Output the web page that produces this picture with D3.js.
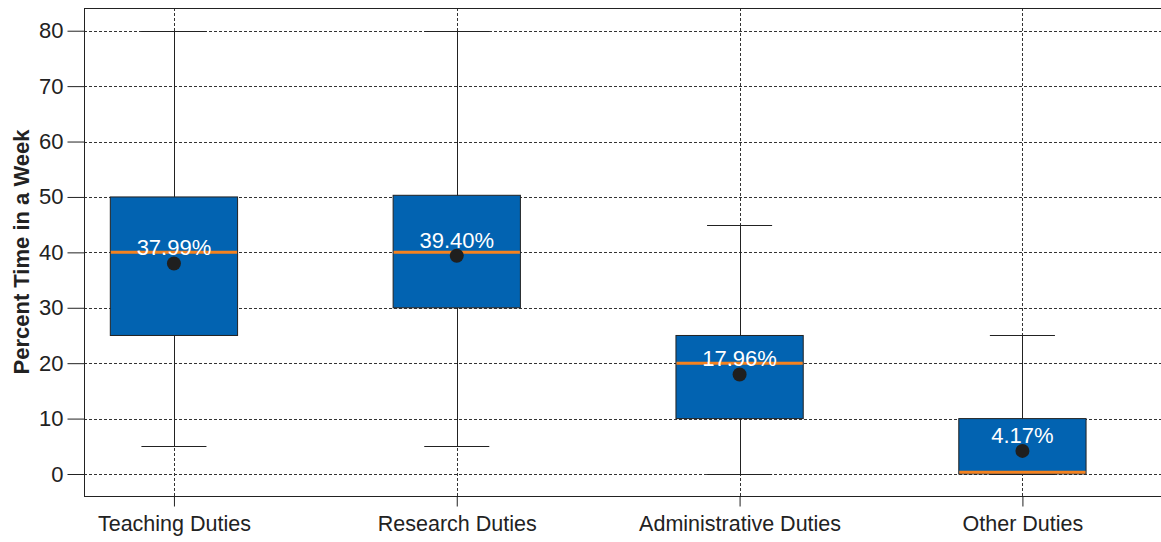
<!DOCTYPE html>
<html>
<head>
<meta charset="utf-8">
<script src="https://cdn.jsdelivr.net/npm/d3@7"></script>
<style>
  html, body { margin: 0; padding: 0; background: #fff; }
  svg { display: block; font-family: "Liberation Sans", Arial, sans-serif; }
</style>
</head>
<body>
<svg id="chart" width="1161" height="542"></svg>
<script>
// Weekly time allocation by duty type
const categories = ["Teaching Duties", "Research Duties", "Administrative Duties", "Other Duties"];
const whiskerLow  = [5, 5, 0, 0];
const q1          = [25, 30, 10, 0];
const medians     = [40, 40, 20, 0.3];
const q3          = [50, 50.3, 25, 10];
const whiskerHigh = [80, 80, 45, 25];
const means       = [37.99, 39.40, 17.96, 4.17];
const yTicks      = [0, 10, 20, 30, 40, 50, 60, 70, 80];

const svg = d3.select("#chart");
const plotLeft = 84, plotTop = 8, plotBottom = 496, plotRight = 1161;

const x = d3.scaleLinear().domain([0.682, 4.49]).range([plotLeft, plotRight]);
const y = d3.scaleLinear().domain([-3.97, 84.1]).range([plotBottom, plotTop]);

const boxHalf = 0.225, capHalf = 0.115;
const ink = "#222";
const fontSize = 22;

// grid
const grid = svg.append("g");
grid.selectAll("line.h").data(yTicks).join("line")
  .attr("x1", plotLeft).attr("x2", plotRight)
  .attr("y1", d => Math.round(y(d)) + 0.5).attr("y2", d => Math.round(y(d)) + 0.5)
  .attr("stroke", "#333").attr("stroke-dasharray", "3,2");
grid.selectAll("line.v").data(categories).join("line")
  .attr("x1", (d, i) => Math.round(x(i + 1)) + 0.5).attr("x2", (d, i) => Math.round(x(i + 1)) + 0.5)
  .attr("y1", plotTop).attr("y2", plotBottom)
  .attr("stroke", "#333").attr("stroke-dasharray", "3,2");

const data = categories.map((c, i) => ({
  c, i, lo: whiskerLow[i], q1: q1[i], med: medians[i], q3: q3[i], hi: whiskerHigh[i], mean: means[i]
}));

const g = svg.append("g");
const boxes = g.selectAll("g.box").data(data).join("g");

// whiskers
boxes.append("line")
  .attr("x1", d => Math.round(x(d.i + 1)) + 0.5).attr("x2", d => Math.round(x(d.i + 1)) + 0.5)
  .attr("y1", d => y(d.q3)).attr("y2", d => y(d.hi))
  .attr("stroke", ink).attr("stroke-width", 1);
boxes.append("line")
  .attr("x1", d => Math.round(x(d.i + 1)) + 0.5).attr("x2", d => Math.round(x(d.i + 1)) + 0.5)
  .attr("y1", d => y(d.q1)).attr("y2", d => y(d.lo))
  .attr("stroke", ink).attr("stroke-width", 1);
// caps
boxes.append("line")
  .attr("x1", d => x(d.i + 1 - capHalf)).attr("x2", d => x(d.i + 1 + capHalf))
  .attr("y1", d => Math.round(y(d.hi)) + 0.5).attr("y2", d => Math.round(y(d.hi)) + 0.5)
  .attr("stroke", ink);
boxes.append("line")
  .attr("x1", d => x(d.i + 1 - capHalf)).attr("x2", d => x(d.i + 1 + capHalf))
  .attr("y1", d => Math.round(y(d.lo)) + 0.5).attr("y2", d => Math.round(y(d.lo)) + 0.5)
  .attr("stroke", ink);

// boxes
boxes.append("rect")
  .attr("x", d => x(d.i + 1 - boxHalf))
  .attr("width", d => x(d.i + 1 + boxHalf) - x(d.i + 1 - boxHalf))
  .attr("y", d => y(d.q3))
  .attr("height", d => y(d.q1) - y(d.q3))
  .attr("fill", "#0263b1").attr("stroke", ink).attr("stroke-width", 1);

// medians
boxes.append("line")
  .attr("x1", d => x(d.i + 1 - boxHalf) + 0.5).attr("x2", d => x(d.i + 1 + boxHalf) - 0.5)
  .attr("y1", d => y(d.med)).attr("y2", d => y(d.med))
  .attr("stroke", "#f5821f").attr("stroke-width", 3);

// means
boxes.append("circle")
  .attr("cx", d => x(d.i + 1)).attr("cy", d => y(d.mean))
  .attr("r", 7).attr("fill", "#1f1f1f");

boxes.append("text")
  .attr("x", d => x(d.i + 1)).attr("y", d => y(d.mean) - 8)
  .attr("text-anchor", "middle")
  .attr("fill", "#fff").attr("font-size", fontSize)
  .text(d => d.mean.toFixed(2) + "%");

// frame
svg.append("line").attr("x1", plotLeft).attr("x2", plotRight).attr("y1", plotTop + 0.5).attr("y2", plotTop + 0.5).attr("stroke", ink);

// axes
const yAxis = d3.axisLeft(y).tickValues(yTicks).tickSize(17).tickPadding(4);
const ya = svg.append("g").attr("transform", `translate(${plotLeft + 0.5},0)`).call(yAxis);
ya.select(".domain").attr("d", `M0,${plotTop}V${plotBottom}`).attr("stroke", ink);
ya.selectAll(".tick line").attr("stroke", ink);
ya.selectAll("text").attr("font-size", fontSize).attr("fill", ink).attr("font-family", "Liberation Sans, Arial, sans-serif");

const xAxis = d3.axisBottom(x).tickValues([1, 2, 3, 4]).tickSize(10).tickPadding(9)
  .tickFormat(d => categories[d - 1]);
const xa = svg.append("g").attr("transform", `translate(0,${plotBottom + 0.5})`).call(xAxis);
xa.select(".domain").attr("d", `M${plotLeft},0H${plotRight}`).attr("stroke", ink);
xa.selectAll(".tick line").attr("stroke", ink);
xa.selectAll("text").attr("font-size", 21.5).attr("fill", ink).attr("font-family", "Liberation Sans, Arial, sans-serif");

svg.append("text")
  .attr("transform", `translate(29,${(plotTop + plotBottom) / 2}) rotate(-90)`)
  .attr("text-anchor", "middle")
  .attr("font-size", 22).attr("font-weight", "bold").attr("fill", ink)
  .text("Percent Time in a Week");
</script>
</body>
</html>
